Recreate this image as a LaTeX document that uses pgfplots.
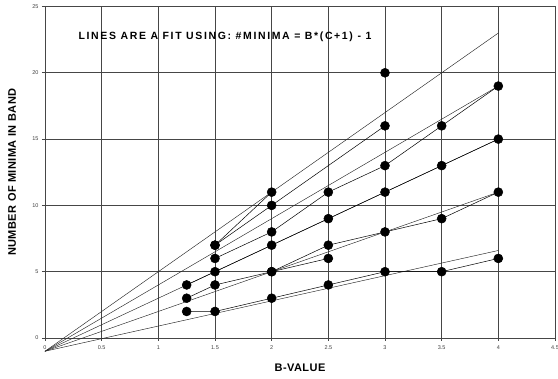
\documentclass[border=0pt]{standalone}
\usepackage{pgfplots}
\pgfplotsset{compat=1.18}
\usepackage{fontspec}
\setmainfont{Liberation Sans}
\newfontfamily\titlefont[LetterSpace=15.5]{Liberation Sans}
\newfontfamily\labfont[LetterSpace=4]{Liberation Sans}
\definecolor{gridc}{RGB}{70,70,70}
\begin{document}
\begin{tikzpicture}
\begin{axis}[
  scale only axis, width=510pt, height=331.5pt,
  xmin=0, xmax=4.5, ymin=0, ymax=25,
  xtick={0,0.5,1,1.5,2,2.5,3,3.5,4,4.5},
  ytick={0,5,10,15,20,25},
  xtick pos=bottom, ytick pos=left,
  tick align=outside, major tick length=3pt,
  tick style={gridc, line width=0.6pt},
  grid=major, grid style={gridc, line width=0.6pt},
  axis line style={gridc, line width=0.6pt},
  /pgf/number format/assume math mode=true,
  ticklabel style={font=\fontsize{5.5}{6}\selectfont, text=black!75},
  xticklabel style={yshift=-1pt},
  xlabel={B-VALUE}, ylabel={NUMBER OF MINIMA IN BAND},
  label style={font=\labfont\bfseries\fontsize{11}{13}\selectfont},
  xlabel style={at={(axis description cs:0.5,-0.0905)}, anchor=center},
  ylabel style={at={(axis description cs:-0.0647,0.5)}, anchor=center},
  clip=false,
]
% fit lines: #minima = B*(C+1) - 1
\addplot[black!85, line width=0.45pt] coordinates {(0,-1) (4,23)};
\addplot[black!85, line width=0.45pt] coordinates {(0,-1) (4,19)};
\addplot[black!85, line width=0.45pt] coordinates {(0,-1) (4,15)};
\addplot[black!85, line width=0.45pt] coordinates {(0,-1) (4,11)};
\addplot[black!85, line width=0.45pt] coordinates {(0,-1) (4,6.6)};
% data
\pgfplotsset{dat/.style={black, line width=0.5pt, mark=*, mark size=4.5pt, mark options={fill=black}}}
\addplot[dat] coordinates {(1.25,2) (1.5,2) (2,3) (2.5,4) (3,5) (3.5,5) (4,6)};
\addplot[dat] coordinates {(1.25,3) (1.5,4) (2,5) (2.5,7) (3,8) (3.5,9) (4,11)};
\addplot[dat] coordinates {(2,5) (2.5,6)};
\addplot[dat] coordinates {(1.25,4) (1.5,5) (2,7) (2.5,9) (3,11) (3.5,13) (4,15)};
\addplot[dat] coordinates {(1.5,6) (2,8) (2.5,11) (3,13) (3.5,16) (4,19)};
\addplot[dat] coordinates {(1.5,7) (2,10) (3,16)};
\addplot[dat] coordinates {(1.5,7) (2,11)};
\addplot[dat] coordinates {(3,20)};
\node[anchor=west, font=\titlefont\bfseries\fontsize{10.5}{12}\selectfont] at (axis description cs:0.059,0.908) {LINES ARE A FIT USING: \#MINIMA = B*(C+1) - 1};
\end{axis}
\pgfresetboundingbox
\path (current axis.south west) ++(-45pt,-41pt) rectangle ++(558pt,379pt);
\end{tikzpicture}
\end{document}
